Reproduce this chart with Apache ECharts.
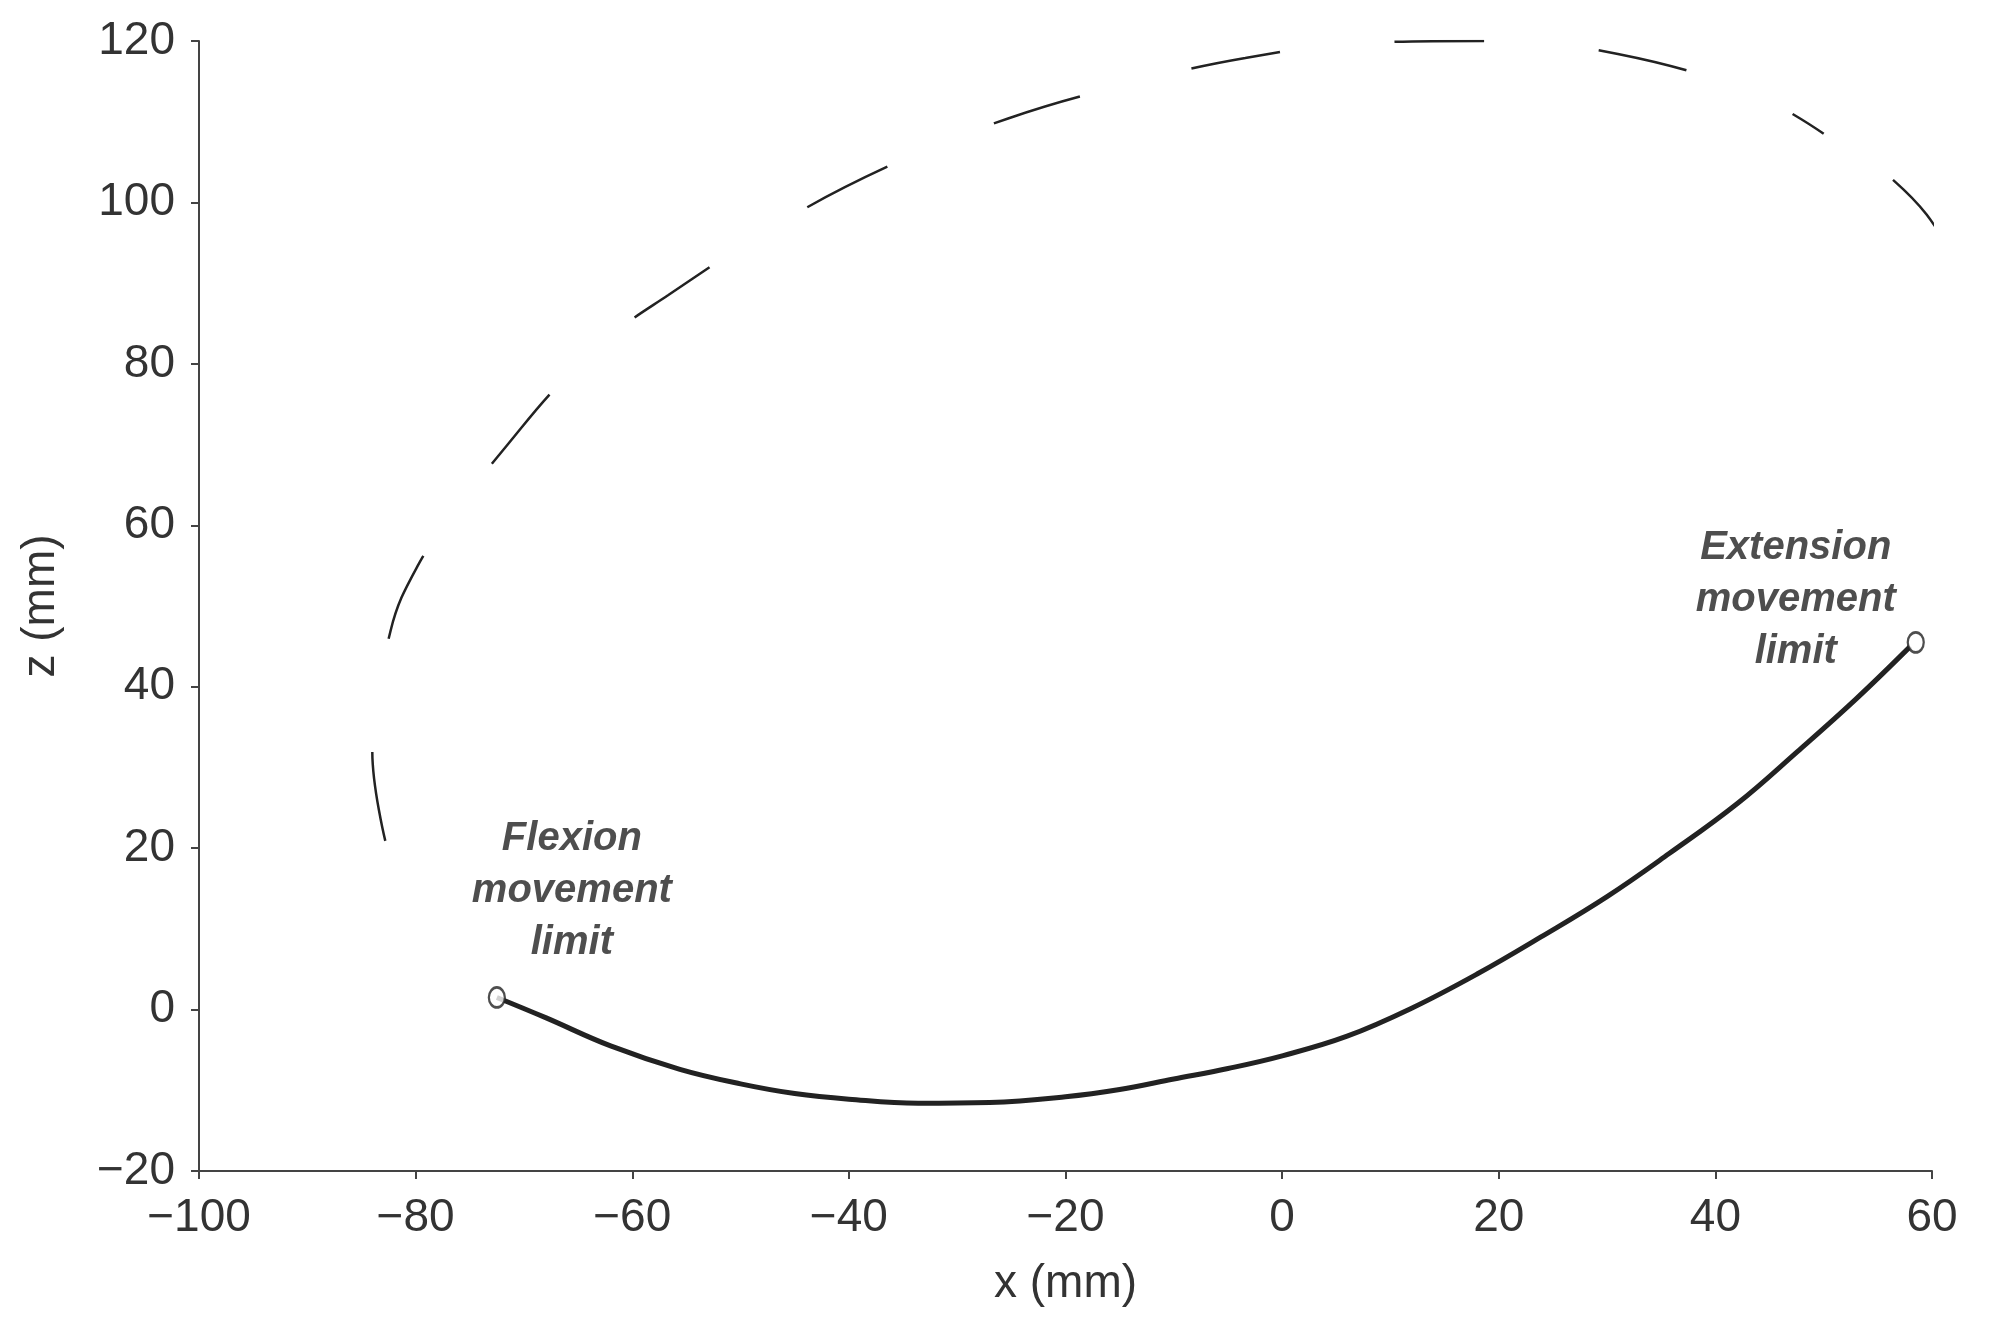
<!DOCTYPE html><html><head><meta charset="utf-8">
<script src="https://cdn.jsdelivr.net/npm/echarts@6/dist/echarts.min.js"></script>
<style>html,body{margin:0;background:#fff}#c{width:2013px;height:1335px}</style></head><body><div id="c"></div>
<script>
const dashedPath=[[-82.8,20.9],[-84,32],[-82.3,47],[-79.8,55],[-76.3,61.9],[-71.5,70],[-66.8,77.4],[-62,83.5],[-56.7,88.5],[-46.7,97.2],[-36,104.7],[-25.3,110.4],[-14.1,114.7],[-3.4,117.9],[7.9,119.8],[19.1,120],[31,118.4],[43.4,113.5],[50,108.5]];
const rightArc=[[56.4,102.8],[59.5,98.5],[61.8,93.3],[63.6,87.5],[64.7,82.2],[65.2,77],[65.3,72.6],[64.9,67.5],[64.1,63],[62.4,57]];
const motionPath=[[-72.5,1.5],[-68,-1],[-62,-4.5],[-55.6,-7.4],[-50,-9.2],[-45,-10.4],[-40,-11.1],[-33.6,-11.6],[-27,-11.5],[-20,-10.8],[-15,-9.9],[-10,-8.6],[-5,-7.3],[0.1,-5.7],[6,-3.3],[12,0.2],[18,4.4],[23.9,9],[30,14],[35.7,19.3],[42,25.5],[47.6,32],[53,38.5],[58,45]];
const limits=[[-72.5,1.5],[58.5,45.5]];
const xTicks=[-100,-80,-60,-40,-20,0,20,40,60];
const yTicks=[-20,0,20,40,60,80,100,120];
const txt='#333', fnt='Liberation Sans';
const c=echarts.init(document.getElementById('c'));
c.setOption({
 grid:{left:199,right:81,top:41,bottom:164},
 xAxis:{type:'value',min:xTicks[0],max:xTicks[xTicks.length-1],interval:20,name:'x (mm)',nameLocation:'middle',nameGap:90,
  nameTextStyle:{fontSize:46,color:txt,fontFamily:fnt},
  axisLine:{onZero:false,lineStyle:{color:'#444',width:2}},axisTick:{lineStyle:{color:'#444',width:2},length:8},
  axisLabel:{fontSize:46,color:txt,fontFamily:fnt,margin:24,formatter:v=>v<0?'\u2212'+(-v):v},splitLine:{show:false}},
 yAxis:{type:'value',min:yTicks[0],max:yTicks[yTicks.length-1],interval:20,name:'z (mm)',nameLocation:'middle',nameGap:135,
  nameTextStyle:{fontSize:46,color:txt,fontFamily:fnt},
  axisLine:{show:true,onZero:false,lineStyle:{color:'#444',width:2}},axisTick:{show:true,lineStyle:{color:'#444',width:2},length:8},
  axisLabel:{fontSize:46,color:txt,fontFamily:fnt,margin:24,formatter:v=>v<0?'\u2212'+(-v):v},splitLine:{show:false}},
 series:[
  {type:'line',data:dashedPath,smooth:0.4,clip:false,symbol:'none',lineStyle:{color:'#222',width:2.5,type:[90,115]}},
  {type:'line',data:rightArc,smooth:0.4,clip:false,symbol:'none',lineStyle:{color:'#222',width:2.5}},
  {type:'line',data:motionPath,smooth:0.4,symbol:'none',lineStyle:{color:'#222',width:5}},
  {type:'scatter',data:limits,clip:false,symbol:'circle',symbolSize:[16,20],itemStyle:{color:'#fff',borderColor:'#222',borderWidth:2.5},z:5,
   label:{show:true,position:'top',fontSize:40,fontWeight:'bold',fontStyle:'italic',color:'#222',fontFamily:fnt,lineHeight:52,
    formatter:p=>p.dataIndex===0?'Flexion\nmovement\nlimit':'Extension\nmovement\nlimit'},
   labelLayout:p=>p.dataIndex===0?{dx:75,dy:-12}:{dx:-120,dy:52}}
 ]
});
</script></body></html>
